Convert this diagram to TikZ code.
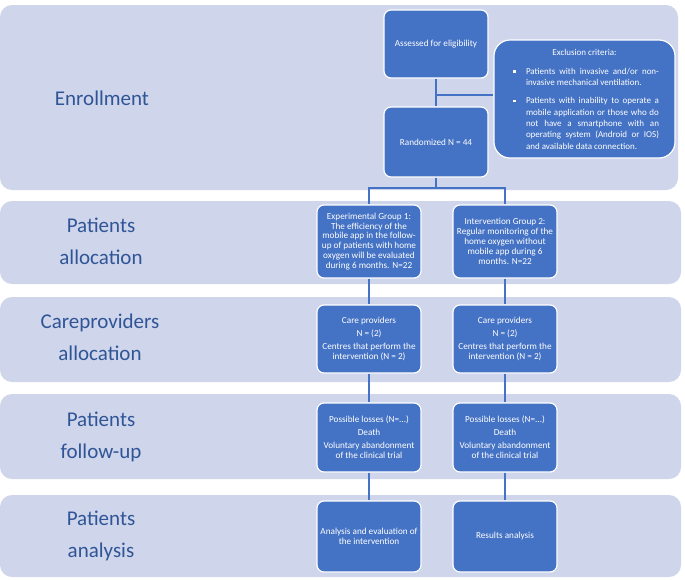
\documentclass[tikz,border=0pt]{standalone}
\usepackage{fontspec}
\setmainfont{Carlito}
\usetikzlibrary{positioning}

\definecolor{bandfill}{HTML}{CFD5EA}
\definecolor{boxblue}{HTML}{4472C4}
\definecolor{labelblue}{HTML}{2F5597}
\newcommand{\sqitem}{\rule[1.8pt]{2.6pt}{2.6pt}}

\begin{document}
\begin{tikzpicture}[x=1pt,y=-1pt,
    band/.style={fill=bandfill,rounded corners=12pt},
    stage/.style={text=labelblue,font=\fontsize{21}{32}\selectfont,align=center},
    box/.style={fill=boxblue,draw=white,line width=1.2pt,rounded corners=7pt,
        text=white,align=center,minimum width=104pt,inner sep=1pt,
        font=\fontsize{9.2}{9.9}\selectfont},
    link/.style={draw=boxblue,line width=2.6pt}]
        \useasboundingbox (0,0) rectangle (685,579);

        % Background bands, one per stage
        \fill[band] (0,5) rectangle (678,190);
        \fill[band] (0,201) rectangle (681,284);
        \fill[band] (0,297) rectangle (681,382);
        \fill[band] (0,394) rectangle (681,479);
        \fill[band] (0,495) rectangle (681,577);

        % Stage names on the left
        \node[stage] (enrol) at (102,98) {Enrollment};
        \node[stage] (alloc) at (101,241) {Patients\\allocation};
        \node[stage] (careal) at (100,337) {Careproviders\\allocation};
        \node[stage] (follow) at (101,437) {Patients\\follow-up};
        \node[stage] (analys) at (101,536) {Patients\\analysis};

        % Enrollment boxes
        \node[box,minimum height=68pt] (assess) at (436,44) {Assessed for eligibility};
        \node[box,minimum height=70pt] (random) at (436,142) {Randomized N = 44};
        \node[box,rounded corners=16pt,minimum width=181pt,minimum height=118pt,
            text width=149pt,align=justify,font=\fontsize{9}{11.3}\selectfont]
            (excl) at (584.5,99) {%
            {\centering Exclusion criteria:\par}
            \begin{list}{\sqitem}{\setlength{\leftmargin}{16pt}\setlength{\labelwidth}{6pt}%
                \setlength{\labelsep}{10pt}\setlength{\itemsep}{7pt}%
                \setlength{\topsep}{6pt}\setlength{\parsep}{0pt}}
            \item Patients with invasive and/or non-invasive mechanical ventilation.
            \item Patients with inability to operate a\linebreak mobile application or those who do\linebreak
                not have a smartphone with an\linebreak operating system (Android or IOS)\linebreak
                and available data connection.
            \end{list}};

        % Allocation boxes
        \node[box,minimum height=73pt] (grp1) at (369,241.5)
            {Experimental Group 1:\\The efficiency of the\\mobile app in the follow-\\up of patients with home\\oxygen will be evaluated\\during 6 months. N=22};
        \node[box,minimum height=73pt] (grp2) at (505,241.5)
            {Intervention Group 2:\\Regular monitoring of the\\home oxygen without\\mobile app during 6\\months. N=22};

        % Care provider boxes
        \node[box,minimum height=68pt] (care1) at (369,339)
            {Care providers\\[3pt]N = (2)\\[3pt]Centres that perform the\\intervention (N = 2)};
        \node[box,minimum height=68pt] (care2) at (505,339)
            {Care providers\\[3pt]N = (2)\\[3pt]Centres that perform the\\intervention (N = 2)};

        % Follow-up boxes
        \node[box,minimum height=69pt] (loss1) at (369,437.5)
            {Possible losses (N=...)\\[3pt]Death\\[3pt]Voluntary abandonment\\of the clinical trial};
        \node[box,minimum height=69pt] (loss2) at (505,437.5)
            {Possible losses (N=...)\\[3pt]Death\\[3pt]Voluntary abandonment\\of the clinical trial};

        % Analysis boxes
        \node[box,minimum height=71pt] (ana1) at (369,536.5)
            {Analysis and evaluation of\\the intervention};
        \node[box,minimum height=71pt] (ana2) at (505,536.5) {Results analysis};

        % Connectors
        \coordinate (exclin) at (436,95);
        \coordinate (split) at (436,188);
        \draw[link] (assess) -- (random);
        \draw[link] (exclin) -- (exclin -| excl.west);
        \draw[link] (random) -- (split);
        \draw[link] (grp1) |- (split) -| (grp2);
        \draw[link] (grp1) -- (care1);
        \draw[link] (grp2) -- (care2);
        \draw[link] (care1) -- (loss1);
        \draw[link] (care2) -- (loss2);
        \draw[link] (loss1) -- (ana1);
        \draw[link] (loss2) -- (ana2);
    \end{tikzpicture}
\end{document}
